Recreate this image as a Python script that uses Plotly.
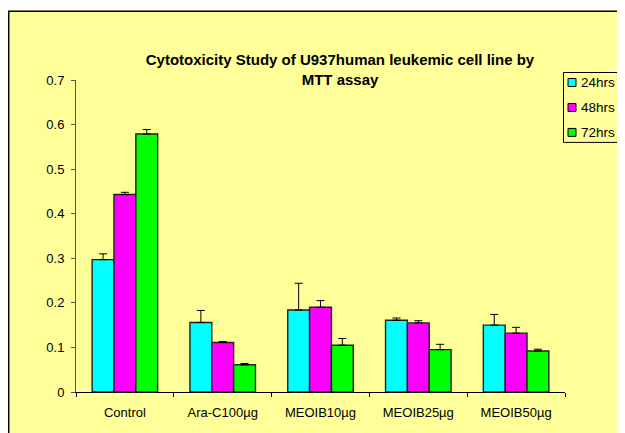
import plotly.graph_objects as go

categories = ["Control", "Ara-C100µg", "MEOIB10µg", "MEOIB25µg", "MEOIB50µg"]
series_names = ["24hrs", "48hrs", "72hrs"]
v24 = [0.297, 0.156, 0.184, 0.161, 0.150]
v48 = [0.443, 0.111, 0.190, 0.155, 0.132]
v72 = [0.579, 0.061, 0.105, 0.095, 0.092]
e24 = [0.013, 0.027, 0.060, 0.005, 0.024]
e48 = [0.005, 0.002, 0.015, 0.005, 0.013]
e72 = [0.010, 0.003, 0.015, 0.012, 0.004]
colors = ["#00FFFF", "#FF00FF", "#00FF00"]
yticks = [0, 0.1, 0.2, 0.3, 0.4, 0.5, 0.6, 0.7]
ytick_text = ["0", "0.1", "0.2", "0.3", "0.4", "0.5", "0.6", "0.7"]

# page body has an 8px margin; figure pixel coords = screen - 8
W, H = 617, 425
L, R, T, B = 68, 60, 72, 40.5
pw = W - L - R
ph = H - T - B
OFF = 8

def px_x(p):  # screen x -> paper
    return (p - OFF - L) / pw

def px_y(p):  # screen y -> paper
    return (H - B - (p - OFF)) / ph

fig = go.Figure()
for name, vals, errs, col in zip(series_names, [v24, v48, v72], [e24, e48, e72], colors):
    fig.add_trace(go.Bar(
        x=categories, y=vals, name=name, showlegend=False,
        marker=dict(color=col, line=dict(color="#222222", width=1.4)),
        error_y=dict(type="data", array=errs, arrayminus=[0]*len(errs), symmetric=False,
                     color="black", thickness=1, width=4),
    ))

shapes = [
    dict(type="rect", xref="paper", yref="paper", x0=px_x(-5), x1=px_x(8), y0=px_y(-5), y1=px_y(445),
         fillcolor="white", line=dict(width=0), layer="above"),
    dict(type="rect", xref="paper", yref="paper", x0=px_x(-5), x1=px_x(640), y0=px_y(-5), y1=px_y(10.5),
         fillcolor="white", line=dict(width=0), layer="above"),
    dict(type="line", xref="paper", yref="paper", x0=px_x(8.7), x1=px_x(8.7), y0=px_y(11), y1=px_y(445),
         line=dict(color="black", width=1.5)),
    dict(type="line", xref="paper", yref="paper", x0=px_x(8), x1=px_x(640), y0=px_y(11.2), y1=px_y(11.2),
         line=dict(color="black", width=1.5)),
    # legend box
    dict(type="rect", xref="paper", yref="paper", x0=px_x(563.5), x1=px_x(619), y0=px_y(72.5), y1=px_y(142.5),
         fillcolor="#FFFF99", line=dict(color="black", width=1)),
]
annotations = []
leg_y = [82.5, 107.5, 132.5]
for name, col, yc in zip(series_names, colors, leg_y):
    shapes.append(dict(type="rect", xref="paper", yref="paper",
                       x0=px_x(568), x1=px_x(576), y0=px_y(yc - 4), y1=px_y(yc + 4),
                       fillcolor=col, line=dict(color="black", width=1)))
    annotations.append(dict(text=name, xref="paper", yref="paper", x=px_x(579), y=px_y(yc),
                            xanchor="left", yanchor="middle", showarrow=False,
                            font=dict(size=13.5, color="black")))

fig.update_layout(
    width=W, height=H,
    margin=dict(l=L, r=R, t=T, b=B, autoexpand=False),
    paper_bgcolor="#FFFF99",
    plot_bgcolor="#FFFF99",
    font=dict(family="Liberation Sans, Arial", size=13, color="black"),
    barmode="group", bargap=0.33, bargroupgap=0,
    showlegend=False,
    title=dict(text="<b>Cytotoxicity Study of U937human leukemic cell line by<br>MTT assay</b>",
               x=px_x(340), xref="paper", xanchor="center",
               y=1 - 57 / H, yref="container", yanchor="top",
               font=dict(size=15, family="Liberation Sans, Arial", color="black")),
    xaxis=dict(showline=True, linecolor="black", linewidth=1, ticks="outside",
               tickson="boundaries", ticklen=4, tickcolor="black",
               showgrid=False, tickfont=dict(size=13), ticklabelstandoff=8),
    yaxis=dict(range=[0, 0.7], tickvals=yticks, ticktext=ytick_text,
               showline=True, linecolor="#555555", linewidth=1, ticks="outside",
               ticklen=4, tickcolor="#555555", showgrid=False, zeroline=False,
               ticklabelstandoff=4, tickfont=dict(size=13)),
    shapes=shapes,
    annotations=annotations,
)

fig.write_html("out.html", config={"displayModeBar": False})
